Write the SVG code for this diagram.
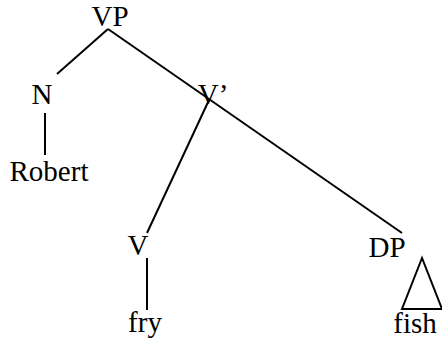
<svg xmlns="http://www.w3.org/2000/svg" width="442" height="343" viewBox="0 0 442 343">
<style>
text{font-family:"Liberation Serif","Times New Roman",serif;font-size:29px;fill:#000}
.e{stroke:#000;stroke-width:2;fill:none}
</style>
<rect width="442" height="343" fill="#fff"/>
<g id="connectors">
<line class="e" x1="108" y1="29" x2="57" y2="74"/>
<line class="e" x1="108" y1="29" x2="402" y2="233"/>
<line class="e" x1="209" y1="100" x2="147" y2="233"/>
<line class="e" x1="45" y1="113" x2="45" y2="155"/>
<line class="e" x1="147" y1="258" x2="147" y2="310"/>
<polygon class="e" points="422,258 402,309 442,309"/>
</g>
<g id="VP"><text x="110" y="26" text-anchor="middle">VP</text></g>
<g id="N"><text x="42" y="104" text-anchor="middle">N</text></g>
<g id="Robert"><text x="49" y="181" text-anchor="middle">Robert</text></g>
<g id="Vbar"><text x="213" y="104" text-anchor="middle">V’</text></g>
<g id="V"><text x="138" y="255" text-anchor="middle">V</text></g>
<g id="fry"><text x="145" y="332" text-anchor="middle">fry</text></g>
<g id="DP"><text x="387" y="257" text-anchor="middle">DP</text></g>
<g id="fish"><text x="415" y="333" text-anchor="middle">fish</text></g>
</svg>
